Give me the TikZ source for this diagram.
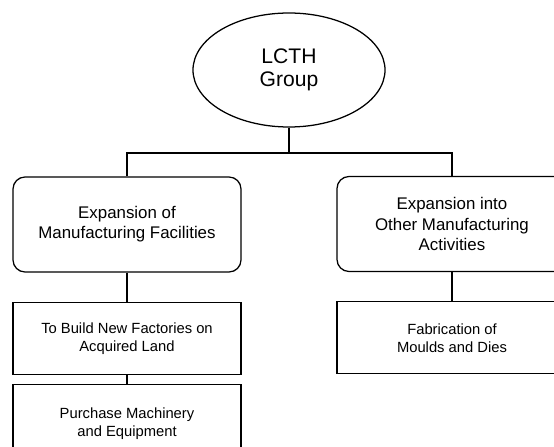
\documentclass[tikz,border=0pt]{standalone}
\usepackage{fontspec}
\setmainfont{Liberation Sans}
\usetikzlibrary{positioning,shapes.geometric}
\tikzset{
    group/.style={
        ellipse,
        draw,
        align=center,
        inner sep=0pt,
        minimum width=4.8cm,
        minimum height=2.85cm,
        font=\fontsize{15}{16.5}\selectfont
    },
    branch/.style={
        rectangle,
        rounded corners=0.3cm,
        draw,
        align=center,
        minimum width=5.7cm,
        minimum height=2.375cm,
        font=\fontsize{12}{14.4}\selectfont
    },
    task/.style={
        rectangle,
        draw,
        align=center,
        minimum width=5.7cm,
        minimum height=1.8cm,
        font=\fontsize{10.5}{12.8}\selectfont
    }
}
\begin{document}
\begin{tikzpicture}[
    node distance=0.725cm,
    line width=0.9pt
]
\useasboundingbox (0,0) rectangle (13.85,-11.175);

% Top of the chart
\node[group] (lcth) at (7.225,-1.75)
{
LCTH\\
Group
};

% Two lines of expansion
\node[branch] (facilities) at (3.175,-5.6125)
{
Expansion of\\
Manufacturing Facilities
};

\node[branch, minimum width=5.75cm] (activities) at (11.3,-5.6)
{
Expansion into\\
Other Manufacturing\\
Activities
};

% Uses of the proceeds
\node[task, below=of facilities] (factories)
{
To Build New Factories on\\
Acquired Land
};

\node[task, below=0.225cm of factories, minimum height=1.95cm] (machinery)
{
Purchase Machinery\\
and Equipment
};

\node[task, minimum width=5.75cm, below=of activities] (moulds)
{
Fabrication of\\
Moulds and Dies
};

\coordinate (bus) at (0,-3.825);

% Group to both branches
\draw (lcth.south) -- (lcth.south |- bus);
\draw (facilities.north) |- (bus -| activities.north) -- (activities.north);

% Branches to their tasks
\draw (facilities) -- (factories);
\draw (factories) -- (machinery);
\draw (activities) -- (moulds);

\end{tikzpicture}
\end{document}
